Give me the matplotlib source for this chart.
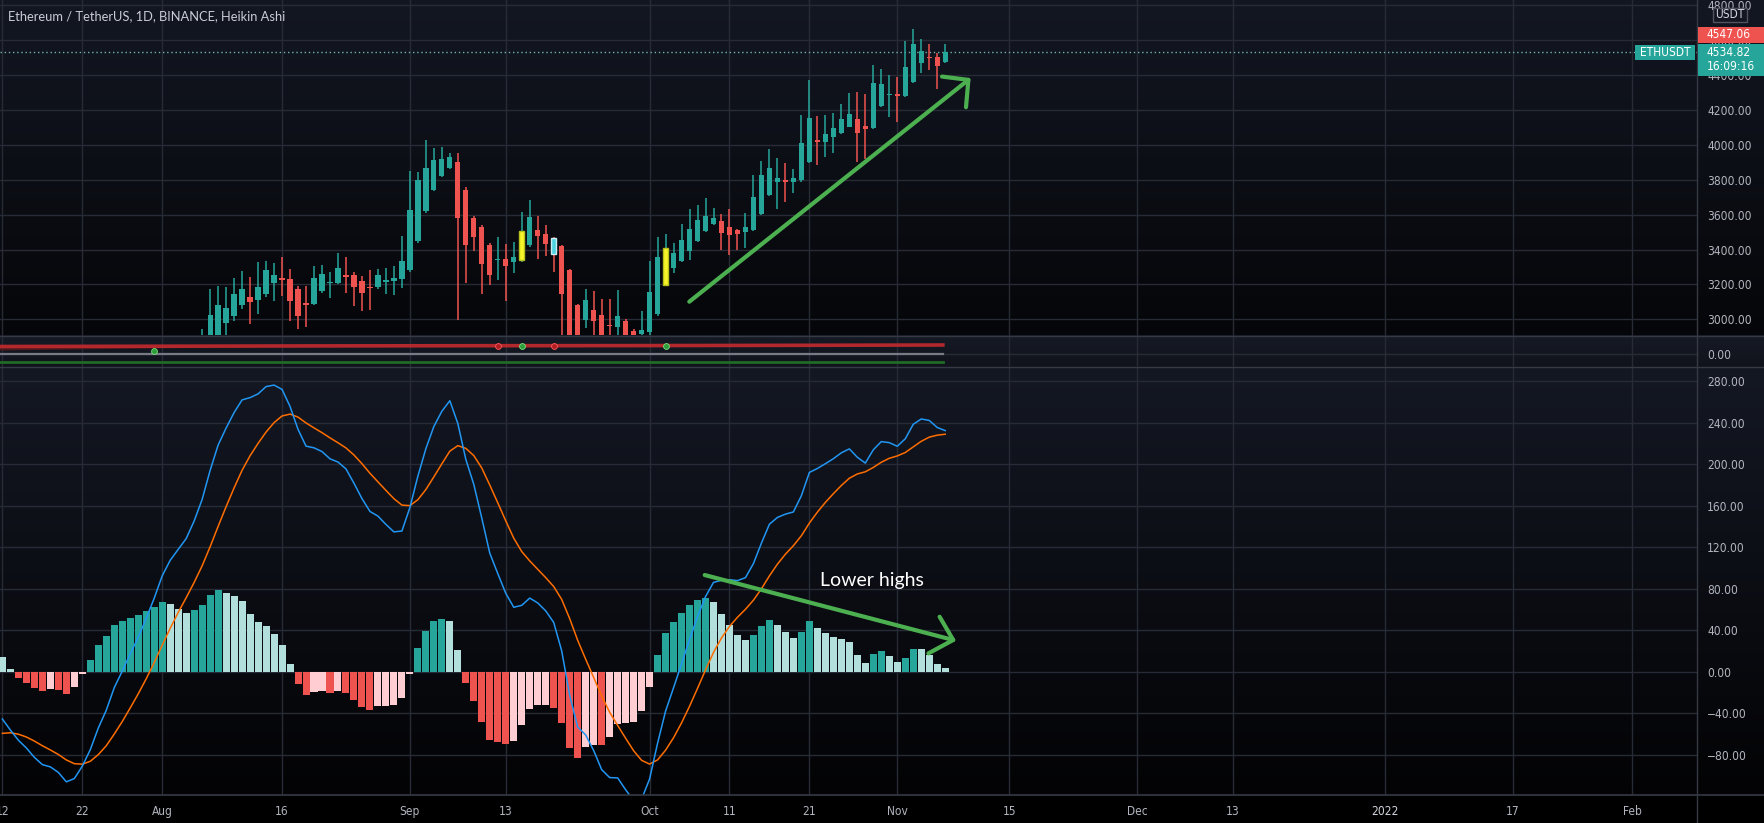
import matplotlib
matplotlib.use("Agg")
import numpy as np
import pandas as pd
import matplotlib.pyplot as plt
import matplotlib.font_manager as fm
from matplotlib.patches import Rectangle
from matplotlib.lines import Line2D

# ---------------- data ----------------
START = pd.Timestamp("2021-07-12")

candle_dates = pd.date_range("2021-08-06", "2021-11-07")
ha_open = [2700, 2775, 2899, 2979, 3019, 3083, 3127, 3110, 3145, 3210,
           3235, 3231, 3173, 3096, 3089, 3164, 3210, 3210, 3254, 3252,
           3218, 3185, 3183, 3216, 3222, 3229, 3281, 3447, 3620, 3742,
           3823, 3867, 3900, 3740, 3582, 3530, 3428, 3339, 3347, 3326,
           3341, 3424, 3511, 3489, 3466, 3420, 3283, 3081, 2994, 3052,
           3023, 2965, 2956, 2990, 2931, 2914, 2925, 3029, 3195, 3292,
           3336, 3392, 3451, 3506, 3546, 3565, 3531, 3512, 3502, 3512,
           3604, 3712, 3787, 3798, 3787, 3798, 3903, 4028, 4016, 4043,
           4066, 4104, 4150, 4108, 4098, 4222, 4287, 4291, 4280, 4362,
           4467, 4505, 4505, 4476]
ha_high = [2946, 3171, 3191, 3187, 3239, 3279, 3245, 3331, 3337, 3322,
           3360, 3287, 3191, 3191, 3303, 3312, 3274, 3380, 3360, 3274,
           3249, 3283, 3291, 3293, 3303, 3480, 3852, 3842, 4030, 3985,
           3990, 3955, 3954, 3760, 3590, 3540, 3435, 3472, 3434, 3441,
           3617, 3682, 3595, 3543, 3470, 3425, 3290, 3085, 3171, 3162,
           3116, 3119, 3168, 3004, 2946, 3046, 3335, 3472, 3491, 3439,
           3546, 3632, 3655, 3693, 3636, 3604, 3630, 3520, 3611, 3827,
           3909, 3974, 3923, 3894, 3860, 4171, 4371, 4165, 4171, 4184,
           4234, 4299, 4305, 4291, 4461, 4434, 4400, 4387, 4597, 4667,
           4610, 4578, 4528, 4576]
ha_low = [2650, 2760, 2890, 2890, 2990, 3060, 2971, 3029, 3130, 3106,
          3135, 2990, 2946, 2956, 3080, 3150, 3123, 3200, 3148, 3075,
          3046, 3056, 3175, 3145, 3139, 3177, 3270, 3440, 3610, 3735,
          3815, 3860, 2998, 3206, 3389, 3145, 3197, 3225, 3106, 3264,
          3330, 3415, 3347, 3364, 3274, 2895, 2780, 2800, 2950, 2880,
          2880, 2850, 2900, 2850, 2880, 2890, 2900, 3020, 3190, 3264,
          3330, 3340, 3445, 3500, 3540, 3397, 3369, 3397, 3407, 3505,
          3600, 3705, 3630, 3674, 3726, 3790, 3895, 3884, 3932, 3951,
          4060, 4100, 3903, 3917, 4090, 4215, 4161, 4133, 4275, 4355,
          4410, 4429, 4318, 4470]
ha_close = [2850, 3023, 3081, 3062, 3145, 3173, 3100, 3185, 3283, 3254,
            3225, 3106, 3019, 3083, 3237, 3260, 3214, 3295, 3245, 3183,
            3152, 3179, 3252, 3223, 3237, 3333, 3624, 3798, 3867, 3913,
            3919, 3929, 3582, 3424, 3470, 3318, 3254, 3347, 3303, 3358,
            3507, 3588, 3476, 3434, 3376, 3143, 2870, 2890, 3108, 2990,
            2895, 2960, 3017, 2880, 2898, 2936, 3156, 3358, 3408, 3380,
            3455, 3516, 3569, 3592, 3583, 3497, 3483, 3489, 3527, 3703,
            3829, 3867, 3808, 3787, 3808, 4012, 4152, 4016, 4062, 4098,
            4150, 4180, 4066, 4093, 4356, 4348, 4291, 4282, 4448, 4581,
            4538, 4496, 4454, 4534.82]
highlight_dates = ["2021-09-15", "2021-10-03", "2021-09-19"]
highlight_kind = ["yellow", "yellow", "cyan"]

macd_dates = pd.date_range("2021-07-12", "2021-11-07")
macd_hist = [13.8, 2.6, -5.8, -10.6, -15.7, -18.2, -16.3, -17.3, -21.1, -14.4,
             -1.9, 11.2, 25.6, 34.2, 44.8, 48.6, 52.2, 54.4, 58.2, 62.1,
             66.9, 65.5, 60.8, 57.0, 59.2, 64.0, 73.6, 78.4, 75.8, 72.6,
             67.8, 56.0, 47.7, 43.8, 36.2, 25.6, 7.4, -11.8, -22.4, -19.2,
             -18.2, -20.2, -18.6, -20.2, -27.2, -33.6, -36.8, -33.0, -32.8, -32.0,
             -25.0, -1.9, 22.7, 39.4, 48.6, 50.6, 48.6, 21.4, -10.6, -27.8,
             -48.3, -65.6, -68.2, -69.8, -66.6, -51.8, -35.8, -32.4, -32.0, -34.6,
             -49.6, -73.9, -83.5, -73.0, -70.4, -71.0, -63.0, -50.6, -49.6, -48.0,
             -37.4, -14.4, 16.1, 37.6, 48.2, 56.9, 64.3, 69.1, 70.7, 67.5,
             55.6, 45.0, 35.3, 30.5, 35.3, 44.0, 49.8, 45.0, 38.6, 32.5,
             38.6, 48.8, 42.1, 37.3, 33.7, 31.5, 28.3, 16.1, 8.4, 17.0,
             19.9, 15.1, 9.3, 13.2, 21.8, 21.5, 16.1, 7.4, 3.5]
hist_before_start = 20.0
macd_line = [-45.6, -56.2, -66.0, -73.5, -82.5, -89.5, -91.7, -97.0, -106.1, -103.0,
             -91.0, -75.1, -54.3, -37.1, -15.3, 0.6, 17.3, 33.1, 51.4, 70.9,
             92.4, 107.4, 117.9, 128.3, 145.3, 166.1, 194.1, 218.5, 234.9, 249.8,
             262.0, 264.2, 267.8, 274.8, 276.3, 272.1, 255.7, 233.6, 217.4, 215.8,
             212.2, 205.2, 202.1, 195.5, 181.7, 166.9, 154.5, 150.0, 142.0, 134.8,
             135.6, 158.2, 188.5, 215.0, 236.4, 251.0, 261.2, 239.3, 204.7, 180.5,
             148.0, 114.3, 94.6, 75.6, 62.1, 64.0, 71.0, 66.3, 58.7, 47.5,
             20.1, -22.7, -53.2, -60.9, -75.9, -94.3, -102.0, -102.3, -113.7, -124.1,
             -122.8, -103.4, -68.9, -38.0, -15.4, 7.6, 31.0, 53.1, 72.4, 86.1,
             88.1, 88.7, 87.8, 90.7, 104.3, 124.0, 142.2, 148.7, 151.9, 154.0,
             169.7, 192.1, 195.9, 200.5, 205.3, 211.0, 214.8, 206.7, 201.1, 213.9,
             221.8, 220.8, 217.3, 224.5, 238.5, 243.6, 242.2, 235.4, 232.4]
signal_line = [-59.4, -58.8, -60.2, -62.9, -66.8, -71.3, -75.4, -79.7, -85.0, -88.6,
               -89.1, -86.3, -79.9, -71.3, -60.1, -48.0, -34.9, -21.3, -6.8, 8.8,
               25.5, 41.9, 57.1, 71.3, 86.1, 102.1, 120.5, 140.1, 159.1, 177.2,
               194.2, 208.2, 220.1, 231.0, 240.1, 246.5, 248.3, 245.4, 239.8, 235.0,
               230.4, 225.4, 220.7, 215.7, 208.9, 200.5, 191.3, 183.0, 174.8, 166.8,
               160.6, 160.1, 165.8, 175.6, 187.8, 200.4, 212.6, 217.9, 215.3, 208.3,
               196.3, 179.9, 162.8, 145.4, 128.7, 115.8, 106.8, 98.7, 90.7, 82.1,
               69.7, 51.2, 30.3, 12.1, -5.5, -23.3, -39.0, -51.7, -64.1, -76.1,
               -85.4, -89.0, -85.0, -75.6, -63.6, -49.3, -33.3, -16.0, 1.7, 18.6,
               32.5, 43.7, 52.5, 60.2, 69.0, 80.0, 92.4, 103.7, 113.3, 121.5,
               131.1, 143.3, 153.8, 163.2, 171.6, 179.5, 186.5, 190.6, 192.7, 196.9,
               201.9, 205.7, 208.0, 211.3, 216.7, 222.1, 226.1, 228.0, 228.9]

# small indicator strip
strip_days = [-1, 20, 40, 60, 80, 100, 117.7]
strip_red = [7.2, 7.5, 7.8, 8.0, 8.1, 8.4, 8.7]
strip_zero = [0, 0, 0, 0, 0, 0, 0]
strip_green = [-8.6, -8.6, -8.6, -8.6, -8.6, -8.6, -8.6]
band_days = [-1, 18, 36]
band_low = [3.6, 5.7, 7.6]
band_high = [7.2, 7.4, 7.6]
dot_dates = ["2021-07-31", "2021-09-12", "2021-09-15", "2021-09-19", "2021-10-03"]
dot_values = [3.2, 8.0, 8.0, 8.0, 7.8]
dot_kind = ["green", "red", "green", "red", "green"]

price_ticks = [3000, 3200, 3400, 3600, 3800, 4000, 4200, 4400, 4600, 4800]
macd_ticks = [-80, -40, 0, 40, 80, 120, 160, 200, 240, 280]
x_tick_dates = ["2021-07-12", "2021-07-22", "2021-08-01", "2021-08-16", "2021-09-01",
                "2021-09-13", "2021-10-01", "2021-10-11", "2021-10-21", "2021-11-01",
                "2021-11-15", "2021-12-01", "2021-12-13", "2022-01-01", "2022-01-17",
                "2022-02-01"]
x_tick_labels = ["12", "22", "Aug", "16", "Sep", "13", "Oct", "11", "21", "Nov",
                 "15", "Dec", "13", "2022", "17", "Feb"]

last_price = 4534.82
other_price = 4547.06

# annotations (day offset from START, value)
up_arrow_days = [85.97, 120.9]
up_arrow_vals = [3101, 4373]
up_head_days = [117.6, 120.9, 120.6]
up_head_vals = [4392, 4373, 4216]
dn_arrow_days = [87.9, 119.0]
dn_arrow_vals = [93.2, 30.6]
dn_head_days = [117.3, 119.0, 115.9]
dn_head_vals = [53.0, 30.6, 17.7]

# ---------------- style ----------------
W, H = 1765, 823
TEAL = "#26a69a"
RED = "#ef5350"
LTEAL = "#b2dfdb"
PINK = "#ffcdd2"
GRID = "#272b36"
SEP = "#363a45"
TXT = "#b2b5be"
ARROW = "#4caf50"

names = {f.name for f in fm.fontManager.ttflist}
cond_file = None
for key in ["LiberationSansNarrow-Regular", "DejaVuSansCondensed.ttf", "NotoSans-Condensed.ttf",
            "RobotoCondensed-Regular", "OpenSans_Condensed-Regular", "OpenSansCondensed-Regular"]:
    for f in fm.fontManager.ttflist:
        if key in f.fname:
            cond_file = f.fname
            break
    if cond_file:
        break
if cond_file:
    sz = 8.6 if "DejaVu" in cond_file else 9.2
    AXF = fm.FontProperties(fname=cond_file, size=sz)
else:
    AXF = fm.FontProperties(family="Liberation Sans", size=8.0)
hum = "Lato" if "Lato" in names else "DejaVu Sans"
TITLEF = fm.FontProperties(family=hum, size=9.3)
NOTEF = fm.FontProperties(family=hum, size=14)


def rect(x0, y0, x1, y1):
    return [x0 / W, 1 - y1 / H, (x1 - x0) / W, (y1 - y0) / H]


def days(d):
    return (pd.DatetimeIndex(pd.to_datetime(d)) - START).days.values


fig = plt.figure(figsize=(W / 100, H / 100), dpi=100)

# background gradient
grad = np.zeros((H, 1, 3))
for y in range(H):
    if y < 335:
        t = y / 335
        a, b = np.array([19, 23, 34]), np.array([5, 6, 9])
    elif y < 367:
        t = (y - 335) / 32
        a, b = np.array([22, 26, 37]), np.array([16, 19, 27])
    elif y < 795:
        t = (y - 367) / 428
        a, b = np.array([20, 24, 35]), np.array([3, 3, 5])
    else:
        t = 0
        a = b = np.array([0, 0, 0])
    grad[y, 0] = (a + (b - a) * t) / 255
bg = fig.add_axes([0, 0, 1, 1], zorder=-5)
bg.imshow(grad, aspect="auto", extent=[0, 1, 0, 1], interpolation="bilinear")
bg.axis("off")

XL = (-0.3, -0.3 + 1697 / 7.99)
ax_top = fig.add_axes(rect(0, 0, 1697, 335))
ax_mid = fig.add_axes(rect(0, 335, 1697, 367))
ax_bot = fig.add_axes(rect(0, 367, 1697, 795))

xt = days(x_tick_dates)
for ax in (ax_top, ax_mid, ax_bot):
    ax.set_facecolor("none")
    for s in ax.spines.values():
        s.set_visible(False)
    ax.set_xlim(*XL)
    ax.set_xticks(xt)
    ax.set_axisbelow(True)
    ax.grid(axis="x", color=GRID, lw=1)
    ax.tick_params(axis="x", length=0, labelbottom=False)
    ax.yaxis.tick_right()
    ax.tick_params(axis="y", length=0, pad=7.3, colors=TXT)

# ---- top pane: Heikin Ashi candles ----
ax_top.set_ylim(2910, 4831)
ax_top.set_yticks(price_ticks)
ax_top.set_yticklabels([f"{v:.2f}" for v in price_ticks], fontproperties=AXF, color=TXT)
ax_top.grid(axis="y", color=GRID, lw=1)

o = np.array(ha_open, float)
c = np.array(ha_close, float)
hi = np.array(ha_high, float)
lo = np.array(ha_low, float)
xc = days(candle_dates)
upc = c >= o
body_col = np.where(upc, TEAL, RED).astype(object)
edge_col = body_col.copy()
wick_col = body_col.copy()
lws = np.zeros(len(o))
hl_x = days(highlight_dates)
for hx, kind in zip(hl_x, highlight_kind):
    i = int(np.where(xc == hx)[0][0])
    if kind == "yellow":
        body_col[i] = "#f7f52a"
        edge_col[i] = "#b8c01c"
    else:
        body_col[i] = "#4fd2e0"
        edge_col[i] = "#c9eef3"
    lws[i] = 1.0
ax_top.vlines(xc, lo, hi, colors=list(wick_col), lw=1.1, zorder=2)
ax_top.bar(xc, np.maximum(np.abs(c - o), 5), bottom=np.minimum(o, c), width=0.66,
           color=list(body_col), edgecolor=list(edge_col), linewidth=list(lws), zorder=3)
ax_top.axhline(last_price, color="#7fc4bc", lw=1, ls=(0, (1, 2)), alpha=0.9, zorder=1)
ax_top.plot(up_arrow_days, up_arrow_vals, color=ARROW, lw=3, solid_capstyle="round", zorder=5)
ax_top.plot(up_head_days, up_head_vals, color=ARROW, lw=3, solid_capstyle="round",
            solid_joinstyle="round", zorder=5)

# ---- strip pane ----
ax_mid.set_ylim(-13.3, 18.7)
ax_mid.set_yticks([0])
ax_mid.set_yticklabels(["0.00"], fontproperties=AXF, color=TXT)
ax_mid.grid(axis="y", color=GRID, lw=1)
ax_mid.fill_between(band_days, band_low, band_high, color="#5a1a1e", alpha=0.8, lw=0)
ax_mid.plot(strip_days, strip_red, color="#c42a2e", lw=2.6, alpha=0.9)
ax_mid.plot(strip_days, strip_zero, color="#787b86", lw=1.6)
ax_mid.plot(strip_days, strip_green, color="#1f6b26", lw=2.0)
dcol = {"green": ("#2e9e3a", "#7be07f"), "red": ("#b01e22", "#ff5a5a")}
for dx, dv, dk in zip(days(dot_dates), dot_values, dot_kind):
    ax_mid.plot([dx], [dv], marker="o", ms=4.2, color=dcol[dk][0],
                markeredgecolor=dcol[dk][1], markeredgewidth=0.6, zorder=4)

# ---- MACD pane ----
ax_bot.set_ylim(-118.8, 293.7)
ax_bot.set_yticks(macd_ticks)
ax_bot.set_yticklabels([f"{v:.2f}".replace("-", "\u2212") for v in macd_ticks],
                       fontproperties=AXF, color=TXT)
ax_bot.grid(axis="y", color=GRID, lw=1)
hv = np.array(macd_hist)
prev = np.r_[hist_before_start, hv[:-1]]
hcol = np.where(hv >= 0, np.where(hv >= prev, TEAL, LTEAL), np.where(hv < prev, RED, PINK))
xm = days(macd_dates)
ax_bot.bar(xm, hv, width=0.88, color=list(hcol), lw=0, zorder=2)
ax_bot.plot(xm, signal_line, color="#ff6d00", lw=1.1, zorder=3)
ax_bot.plot(xm, macd_line, color="#2196f3", lw=1.1, zorder=3)
ax_bot.plot(dn_arrow_days, dn_arrow_vals, color=ARROW, lw=3, solid_capstyle="round", zorder=5)
ax_bot.plot(dn_head_days, dn_head_vals, color=ARROW, lw=3, solid_capstyle="round",
            solid_joinstyle="round", zorder=5)
ax_bot.text(102.3, 88.4, "Lower highs", fontproperties=NOTEF, color="#ffffff",
            ha="left", va="center", zorder=6)

ax_bot.set_xticklabels(x_tick_labels, fontproperties=AXF, color=TXT)
ax_bot.tick_params(axis="x", labelbottom=True, pad=7.0, colors=TXT)
for lbl in ax_bot.get_xticklabels():
    if lbl.get_text() == "2022":
        lbl.set_fontweight("bold")
        lbl.set_color("#d1d4dc")

# ---- separators ----
def hline(y, x0=0, x1=W, color=SEP, lw=1):
    fig.add_artist(Line2D([x0 / W, x1 / W], [1 - y / H, 1 - y / H], transform=fig.transFigure,
                          color=color, lw=lw, zorder=2))

hline(335.5)
hline(367)
hline(795, lw=1.2)
fig.add_artist(Line2D([1697.5 / W, 1697.5 / W], [0, 1], transform=fig.transFigure, color=SEP, lw=1, zorder=2))

# ---- labels / boxes ----
def box(x0, y0, x1, y1, fc, ec=None, lw=0):
    fig.add_artist(Rectangle((x0 / W, 1 - y1 / H), (x1 - x0) / W, (y1 - y0) / H,
                             transform=fig.transFigure, facecolor=fc,
                             edgecolor=ec if ec else fc, lw=lw, zorder=3))


def ftext(x, y, s, ha="left", color="#ffffff", fp=AXF, **kw):
    fig.text(x / W, 1 - y / H, s, ha=ha, va="center", color=color, fontproperties=fp, zorder=4, **kw)


box(1713, 8, 1747, 22, "#131722", "#50535e", 1)
ftext(1730, 15, "USDT", ha="center", color="#d1d4dc")
box(1698, 27, 1765, 43, RED)
ftext(1707, 35, f"{other_price:.2f}")
box(1698, 43.5, 1765, 75.5, TEAL)
ftext(1707, 53, f"{last_price:.2f}")
ftext(1707, 67, "16:09:16")
box(1635, 45, 1695, 60, TEAL)
ftext(1665, 52.5, "ETHUSDT", ha="center")

ftext(8, 16, "Ethereum / TetherUS, 1D, BINANCE, Heikin Ashi", color="#c9ccd4", fp=TITLEF)

fig.savefig("out.png", dpi=100, facecolor="black")
